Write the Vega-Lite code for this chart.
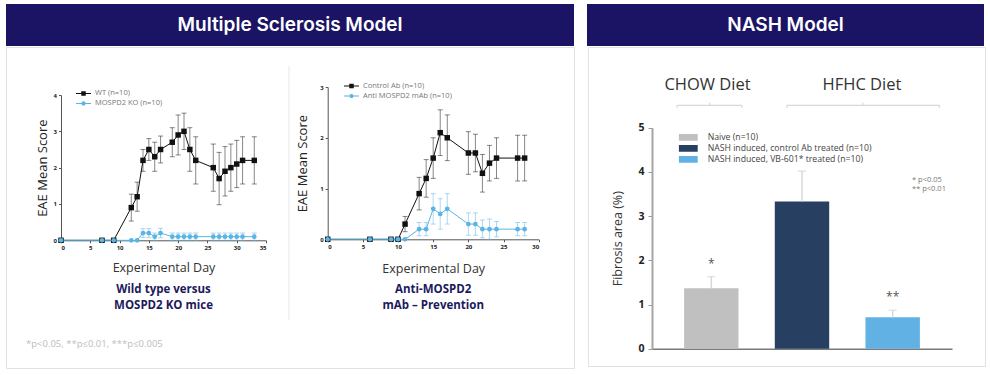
{
"$schema": "https://vega.github.io/schema/vega-lite/v6.json",
"background": "white",
"padding": {"left": 5, "top": 4, "right": 0, "bottom": 0},
"config": {"view": {"stroke": null}, "axis": {"grid": false}, "font": "Open Sans", "legend": {"padding": 0, "offset": 0}},
"datasets": {
"ms_ko": [
{"series": "WT (n=10)", "day": 0, "score": 0},
{"series": "WT (n=10)", "day": 7, "score": 0},
{"series": "WT (n=10)", "day": 9, "score": 0},
{"series": "WT (n=10)", "day": 12, "score": 0.9, "lo": 0.53, "hi": 1.27},
{"series": "WT (n=10)", "day": 13, "score": 1.2, "lo": 0.8, "hi": 1.6},
{"series": "WT (n=10)", "day": 14, "score": 2.2, "lo": 1.9, "hi": 2.5},
{"series": "WT (n=10)", "day": 15, "score": 2.5, "lo": 2.2, "hi": 2.8},
{"series": "WT (n=10)", "day": 16, "score": 2.3, "lo": 1.9, "hi": 2.7},
{"series": "WT (n=10)", "day": 17, "score": 2.5, "lo": 2.13, "hi": 2.87},
{"series": "WT (n=10)", "day": 19, "score": 2.7, "lo": 2.3, "hi": 3.1},
{"series": "WT (n=10)", "day": 20, "score": 2.9, "lo": 2.35, "hi": 3.45},
{"series": "WT (n=10)", "day": 21, "score": 3.0, "lo": 2.5, "hi": 3.5},
{"series": "WT (n=10)", "day": 22, "score": 2.5, "lo": 1.9, "hi": 3.1},
{"series": "WT (n=10)", "day": 23, "score": 2.2, "lo": 1.55, "hi": 2.85},
{"series": "WT (n=10)", "day": 26, "score": 2.0, "lo": 1.35, "hi": 2.65},
{"series": "WT (n=10)", "day": 27, "score": 1.7, "lo": 0.98, "hi": 2.42},
{"series": "WT (n=10)", "day": 28, "score": 1.9, "lo": 1.22, "hi": 2.58},
{"series": "WT (n=10)", "day": 29, "score": 2.0, "lo": 1.35, "hi": 2.65},
{"series": "WT (n=10)", "day": 30, "score": 2.1, "lo": 1.45, "hi": 2.75},
{"series": "WT (n=10)", "day": 31, "score": 2.2, "lo": 1.55, "hi": 2.85},
{"series": "WT (n=10)", "day": 33, "score": 2.2, "lo": 1.55, "hi": 2.85},
{"series": "MOSPD2 KO (n=10)", "day": 0, "score": 0},
{"series": "MOSPD2 KO (n=10)", "day": 7, "score": 0},
{"series": "MOSPD2 KO (n=10)", "day": 9, "score": 0},
{"series": "MOSPD2 KO (n=10)", "day": 12, "score": 0},
{"series": "MOSPD2 KO (n=10)", "day": 13, "score": 0},
{"series": "MOSPD2 KO (n=10)", "day": 14, "score": 0.2, "lo": 0.08, "hi": 0.32},
{"series": "MOSPD2 KO (n=10)", "day": 15, "score": 0.2, "lo": 0.08, "hi": 0.32},
{"series": "MOSPD2 KO (n=10)", "day": 16, "score": 0.1, "lo": 0.0, "hi": 0.2},
{"series": "MOSPD2 KO (n=10)", "day": 17, "score": 0.2, "lo": 0.07, "hi": 0.33},
{"series": "MOSPD2 KO (n=10)", "day": 19, "score": 0.1, "lo": 0.0, "hi": 0.2},
{"series": "MOSPD2 KO (n=10)", "day": 20, "score": 0.1, "lo": 0.0, "hi": 0.2},
{"series": "MOSPD2 KO (n=10)", "day": 21, "score": 0.1, "lo": 0.0, "hi": 0.2},
{"series": "MOSPD2 KO (n=10)", "day": 22, "score": 0.1, "lo": 0.0, "hi": 0.2},
{"series": "MOSPD2 KO (n=10)", "day": 23, "score": 0.1, "lo": 0.0, "hi": 0.2},
{"series": "MOSPD2 KO (n=10)", "day": 26, "score": 0.1, "lo": 0.0, "hi": 0.2},
{"series": "MOSPD2 KO (n=10)", "day": 27, "score": 0.1, "lo": 0.0, "hi": 0.2},
{"series": "MOSPD2 KO (n=10)", "day": 28, "score": 0.1, "lo": 0.0, "hi": 0.2},
{"series": "MOSPD2 KO (n=10)", "day": 29, "score": 0.1, "lo": 0.0, "hi": 0.2},
{"series": "MOSPD2 KO (n=10)", "day": 30, "score": 0.1, "lo": 0.0, "hi": 0.2},
{"series": "MOSPD2 KO (n=10)", "day": 31, "score": 0.1, "lo": 0.0, "hi": 0.2},
{"series": "MOSPD2 KO (n=10)", "day": 33, "score": 0.1, "lo": 0.0, "hi": 0.2}
],
"ms_ab": [
{"series": "Control Ab (n=10)", "day": 0, "score": 0},
{"series": "Control Ab (n=10)", "day": 6, "score": 0},
{"series": "Control Ab (n=10)", "day": 9, "score": 0},
{"series": "Control Ab (n=10)", "day": 10, "score": 0},
{"series": "Control Ab (n=10)", "day": 11, "score": 0.3, "lo": 0.15, "hi": 0.45},
{"series": "Control Ab (n=10)", "day": 13, "score": 0.9, "lo": 0.58, "hi": 1.22},
{"series": "Control Ab (n=10)", "day": 14, "score": 1.2, "lo": 0.83, "hi": 1.57},
{"series": "Control Ab (n=10)", "day": 15, "score": 1.6, "lo": 1.2, "hi": 2.0},
{"series": "Control Ab (n=10)", "day": 16, "score": 2.1, "lo": 1.65, "hi": 2.55},
{"series": "Control Ab (n=10)", "day": 17, "score": 2.0, "lo": 1.55, "hi": 2.45},
{"series": "Control Ab (n=10)", "day": 20, "score": 1.7, "lo": 1.28, "hi": 2.12},
{"series": "Control Ab (n=10)", "day": 21, "score": 1.7, "lo": 1.33, "hi": 2.07},
{"series": "Control Ab (n=10)", "day": 22, "score": 1.3, "lo": 0.93, "hi": 1.67},
{"series": "Control Ab (n=10)", "day": 23, "score": 1.5, "lo": 1.15, "hi": 1.85},
{"series": "Control Ab (n=10)", "day": 24, "score": 1.6, "lo": 1.2, "hi": 2.0},
{"series": "Control Ab (n=10)", "day": 27, "score": 1.6, "lo": 1.15, "hi": 2.05},
{"series": "Control Ab (n=10)", "day": 28, "score": 1.6, "lo": 1.15, "hi": 2.05},
{"series": "Anti MOSPD2 mAb (n=10)", "day": 0, "score": 0},
{"series": "Anti MOSPD2 mAb (n=10)", "day": 6, "score": 0},
{"series": "Anti MOSPD2 mAb (n=10)", "day": 9, "score": 0},
{"series": "Anti MOSPD2 mAb (n=10)", "day": 10, "score": 0},
{"series": "Anti MOSPD2 mAb (n=10)", "day": 11, "score": 0},
{"series": "Anti MOSPD2 mAb (n=10)", "day": 13, "score": 0.2, "lo": 0.07, "hi": 0.33},
{"series": "Anti MOSPD2 mAb (n=10)", "day": 14, "score": 0.2, "lo": 0.07, "hi": 0.33},
{"series": "Anti MOSPD2 mAb (n=10)", "day": 15, "score": 0.6, "lo": 0.3, "hi": 0.9},
{"series": "Anti MOSPD2 mAb (n=10)", "day": 16, "score": 0.5, "lo": 0.2, "hi": 0.8},
{"series": "Anti MOSPD2 mAb (n=10)", "day": 17, "score": 0.6, "lo": 0.3, "hi": 0.9},
{"series": "Anti MOSPD2 mAb (n=10)", "day": 20, "score": 0.3, "lo": 0.08, "hi": 0.52},
{"series": "Anti MOSPD2 mAb (n=10)", "day": 21, "score": 0.3, "lo": 0.08, "hi": 0.52},
{"series": "Anti MOSPD2 mAb (n=10)", "day": 22, "score": 0.2, "lo": 0.03, "hi": 0.38},
{"series": "Anti MOSPD2 mAb (n=10)", "day": 23, "score": 0.2, "lo": 0.0, "hi": 0.4},
{"series": "Anti MOSPD2 mAb (n=10)", "day": 24, "score": 0.2, "lo": 0.05, "hi": 0.35},
{"series": "Anti MOSPD2 mAb (n=10)", "day": 27, "score": 0.2, "lo": 0.07, "hi": 0.33},
{"series": "Anti MOSPD2 mAb (n=10)", "day": 28, "score": 0.2, "lo": 0.07, "hi": 0.33}
],
"nash": [
{"group": "Naive (n=10)", "area": 1.37, "hi": 1.63, "sig": "*"},
{"group": "NASH induced, control Ab treated (n=10)", "area": 3.33, "hi": 4.02, "sig": ""},
{"group": "NASH induced, VB-601* treated (n=10)", "area": 0.71, "hi": 0.87, "sig": "**"}
]
},
"spacing": 0,
"resolve": {"scale": {"color": "independent", "shape": "independent"}, "legend": {"color": "independent", "shape": "independent"}},
"vconcat": [
{"spacing": 13, "hconcat": [
 {"width": 568, "height": 42, "view": {"fill": "#1b1464", "stroke": null},
  "data": {"values": [{"header": "Multiple Sclerosis Model"}]},
  "mark": {"type": "text", "color": "white", "font": "Inter", "fontSize": 19, "fontWeight": 600},
  "encoding": {"text": {"field": "header"}}},
 {"width": 397, "height": 42, "view": {"fill": "#1b1464", "stroke": null},
  "data": {"values": [{"header": "NASH Model"}]},
  "mark": {"type": "text", "color": "white", "font": "Inter", "fontSize": 19, "fontWeight": 600},
  "encoding": {"text": {"field": "header"}}}
]},
{"spacing": 12,
 "resolve": {"scale": {"color": "independent", "shape": "independent"}, "legend": {"color": "independent", "shape": "independent"}},
 "hconcat": [
 {"width": 568, "height": 321,
  "view": {"fill": "white", "stroke": "#e2e2e2"},
  "title": {"text": "*p<0.05, **p≤0.01, ***p≤0.005", "orient": "bottom", "anchor": "start", "frame": "group", "offset": -29, "dx": 20, "fontSize": 9.5, "fontWeight": "normal", "color": "#bdbdbd"},
  "resolve": {"scale": {"x": "independent", "y": "independent", "color": "independent", "shape": "independent"}, "axis": {"x": "independent", "y": "independent"}, "legend": {"color": "independent", "shape": "independent"}},
  "layer": [
   {"data": {"name": "ms_ko"},
    "encoding": {
     "x": {"field": "day", "type": "quantitative", "title": "Experimental Day",
      "scale": {"domain": [0, 35], "range": [55, 260], "nice": false, "zero": false},
      "axis": {"orient": "bottom", "offset": -127.7, "values": [0, 5, 10, 15, 20, 25, 30, 35], "titlePadding": 11, "titleFontSize": 12.5, "titleFontWeight": 500, "titleColor": "#333", "labelFontSize": 6, "labelFontWeight": "bold", "labelColor": "#222", "labelPadding": 2, "tickSize": 2.5, "tickColor": "#555", "domainColor": "#555"}},
     "y": {"field": "score", "type": "quantitative", "title": "EAE Mean Score",
      "scale": {"domain": [0, 4], "range": [193.3, 48], "nice": false},
      "axis": {"orient": "left", "offset": -55, "values": [0, 1, 2, 3, 4], "titlePadding": 4, "titleFontSize": 13, "titleFontWeight": "normal", "titleColor": "#222", "labelFontSize": 6, "labelFontWeight": "bold", "labelColor": "#222", "labelPadding": 2, "tickSize": 2.5, "tickColor": "#555", "domainColor": "#555"}}
    },
    "layer": [
     {"transform": [{"filter": "datum.day < 0"}],
      "mark": {"type": "point", "filled": true, "opacity": 1},
      "encoding": {
       "color": {"field": "series", "type": "nominal", "scale": {"domain": ["WT (n=10)", "MOSPD2 KO (n=10)"], "range": ["#111111", "#5ab4e6"]},
        "legend": {"orient": "none", "legendX": 70, "legendY": 41.7, "title": null, "labelFontSize": 7.5, "labelColor": "#777", "symbolSize": 225, "labelOffset": 4, "rowPadding": 0, "clipHeight": 9.5, "symbolStrokeWidth": 0}},
       "shape": {"field": "series", "type": "nominal", "scale": {"domain": ["WT (n=10)", "MOSPD2 KO (n=10)"], "range": ["M-1,-0.07H1V0.07H-1ZM-0.3,-0.3H0.3V0.3H-0.3Z", "M-1,-0.07H1V0.07H-1ZM0.28,0A0.28,0.28,0,1,1,-0.28,0A0.28,0.28,0,1,1,0.28,0Z"]},
        "legend": {"orient": "none", "legendX": 70, "legendY": 41.7, "title": null, "labelFontSize": 7.5, "labelColor": "#777", "symbolSize": 225, "labelOffset": 4, "rowPadding": 0, "clipHeight": 9.5, "symbolStrokeWidth": 0}}
      }},
     {"mark": {"type": "errorbar", "ticks": true, "size": 5, "thickness": 1, "opacity": 0.5},
      "encoding": {"y": {"field": "lo", "type": "quantitative", "title": "EAE Mean Score"}, "y2": {"field": "hi"},
       "color": {"field": "series", "type": "nominal"}}},
     {"mark": {"type": "line", "strokeWidth": 1},
      "encoding": {"color": {"field": "series", "type": "nominal"}}},
     {"transform": [{"filter": "datum.series === 'WT (n=10)'"}],
      "mark": {"type": "point", "shape": "square", "filled": true, "size": 30, "color": "#111111", "opacity": 1}},
     {"transform": [{"filter": "datum.series === 'MOSPD2 KO (n=10)'"}],
      "mark": {"type": "point", "shape": "circle", "filled": true, "size": 22, "color": "#5ab4e6", "opacity": 1}},
     {"transform": [{"filter": "datum.day === 0 && datum.series === 'WT (n=10)'"}],
      "mark": {"type": "text", "text": ["Wild type versus", "MOSPD2 KO mice"], "fontSize": 11.5, "fontWeight": "bold", "color": "#1c1a5c", "lineHeight": 16, "baseline": "top"},
      "encoding": {"x": {"datum": 17.5, "type": "quantitative", "title": "Experimental Day"}, "y": {"datum": -1.198, "type": "quantitative", "title": "EAE Mean Score"}}}
    ]},
   {"data": {"name": "ms_ab"},
    "encoding": {
     "x": {"field": "day", "type": "quantitative", "title": "Experimental Day",
      "scale": {"domain": [0, 30], "range": [321.7, 532.7], "nice": false, "zero": false},
      "axis": {"orient": "bottom", "offset": -128.7, "values": [0, 5, 10, 15, 20, 25, 30], "titlePadding": 13, "titleFontSize": 12.5, "titleFontWeight": 500, "titleColor": "#333", "labelFontSize": 6, "labelFontWeight": "bold", "labelColor": "#222", "labelPadding": 2, "tickSize": 2.5, "tickColor": "#555", "domainColor": "#555"}},
     "y": {"field": "score", "type": "quantitative", "title": "EAE Mean Score",
      "scale": {"domain": [0, 3], "range": [192.3, 40], "nice": false},
      "axis": {"orient": "left", "offset": -321.7, "values": [0, 1, 2, 3], "titlePadding": 10, "titleFontSize": 13, "titleFontWeight": "normal", "titleColor": "#222", "labelFontSize": 6, "labelFontWeight": "bold", "labelColor": "#222", "labelPadding": 2, "tickSize": 2.5, "tickColor": "#555", "domainColor": "#555"}}
    },
    "layer": [
     {"transform": [{"filter": "datum.day < 0"}],
      "mark": {"type": "point", "filled": true, "opacity": 1},
      "encoding": {
       "color": {"field": "series", "type": "nominal", "scale": {"domain": ["Control Ab (n=10)", "Anti MOSPD2 mAb (n=10)"], "range": ["#111111", "#5ab4e6"]},
        "legend": {"orient": "none", "legendX": 338, "legendY": 34, "title": null, "labelFontSize": 7.5, "labelColor": "#777", "symbolSize": 225, "labelOffset": 4, "rowPadding": 0, "clipHeight": 10, "symbolStrokeWidth": 0}},
       "shape": {"field": "series", "type": "nominal", "scale": {"domain": ["Control Ab (n=10)", "Anti MOSPD2 mAb (n=10)"], "range": ["M-1,-0.07H1V0.07H-1ZM-0.3,-0.3H0.3V0.3H-0.3Z", "M-1,-0.07H1V0.07H-1ZM0.28,0A0.28,0.28,0,1,1,-0.28,0A0.28,0.28,0,1,1,0.28,0Z"]},
        "legend": {"orient": "none", "legendX": 338, "legendY": 34, "title": null, "labelFontSize": 7.5, "labelColor": "#777", "symbolSize": 225, "labelOffset": 4, "rowPadding": 0, "clipHeight": 10, "symbolStrokeWidth": 0}}
      }},
     {"transform": [{"filter": "datum.day === 0 && datum.series === 'Control Ab (n=10)'"}],
      "mark": {"type": "rule", "color": "#e6e6e6", "strokeWidth": 1},
      "encoding": {"x": {"datum": -5.5, "type": "quantitative", "title": "Experimental Day"}, "y": {"datum": 3.413, "type": "quantitative", "title": "EAE Mean Score"}, "y2": {"datum": -1.59}}},
     {"mark": {"type": "errorbar", "ticks": true, "size": 5, "thickness": 1, "opacity": 0.5},
      "encoding": {"y": {"field": "lo", "type": "quantitative", "title": "EAE Mean Score"}, "y2": {"field": "hi"},
       "color": {"field": "series", "type": "nominal"}}},
     {"mark": {"type": "line", "strokeWidth": 1},
      "encoding": {"color": {"field": "series", "type": "nominal"}}},
     {"transform": [{"filter": "datum.series === 'Control Ab (n=10)'"}],
      "mark": {"type": "point", "shape": "square", "filled": true, "size": 30, "color": "#111111", "opacity": 1}},
     {"transform": [{"filter": "datum.series === 'Anti MOSPD2 mAb (n=10)'"}],
      "mark": {"type": "point", "shape": "circle", "filled": true, "size": 22, "color": "#5ab4e6", "opacity": 1}},
     {"transform": [{"filter": "datum.day === 0 && datum.series === 'Control Ab (n=10)'"}],
      "mark": {"type": "text", "text": ["Anti-MOSPD2", "mAb – Prevention"], "fontSize": 11.5, "fontWeight": "bold", "color": "#1c1a5c", "lineHeight": 16, "baseline": "top"},
      "encoding": {"x": {"datum": 15, "type": "quantitative", "title": "Experimental Day"}, "y": {"datum": -0.877, "type": "quantitative", "title": "EAE Mean Score"}}}
    ]}
  ]},
 {"width": 397, "height": 319,
  "view": {"fill": "white", "stroke": "#e2e2e2"},
  "data": {"name": "nash"},
  "encoding": {
   "x": {"field": "group", "type": "nominal", "sort": null, "title": null,
    "scale": {"range": [64, 364], "paddingInner": 0.4, "paddingOuter": 0.354},
    "axis": {"orient": "bottom", "offset": -17.3, "labels": false, "ticks": false, "title": null, "domainColor": "#7a7a7a", "domainWidth": 1.5}}
  },
  "layer": [
   {"mark": {"type": "bar"},
    "encoding": {
     "y": {"field": "area", "type": "quantitative", "title": "Fibrosis area (%)",
      "scale": {"domain": [0, 5], "range": [301.7, 80.7], "nice": false},
      "axis": {"orient": "left", "offset": -64, "values": [0, 1, 2, 3, 4, 5], "format": "d", "titlePadding": 13, "titleFontSize": 12.5, "titleFontWeight": "normal", "titleColor": "#333", "labelFontSize": 10.5, "labelFontWeight": "bold", "labelColor": "#222", "labelPadding": 4, "tickSize": 4, "tickColor": "#9a9a9a", "domainColor": "#a5a5a5", "domainWidth": 2}},
     "color": {"field": "group", "type": "nominal", "sort": null,
      "scale": {"domain": ["Naive (n=10)", "NASH induced, control Ab treated (n=10)", "NASH induced, VB-601* treated (n=10)"], "range": ["#c0c0c0", "#273f61", "#62b1e5"]},
      "legend": {"orient": "none", "legendX": 90.7, "legendY": 85, "title": null, "symbolType": "M-1,-0.35H1V0.35H-1Z", "symbolSize": 361, "labelFontSize": 8.7, "labelColor": "#444", "labelOffset": 10, "labelLimit": 0, "rowPadding": 0, "clipHeight": 10.6, "symbolStrokeWidth": 0}}
    }},
   {"mark": {"type": "rule", "color": "#d9d9d9", "strokeWidth": 1.5},
    "encoding": {"y": {"field": "area", "type": "quantitative", "title": "Fibrosis area (%)"}, "y2": {"field": "hi"}}},
   {"mark": {"type": "tick", "color": "#d9d9d9", "thickness": 1.5, "size": 8},
    "encoding": {"y": {"field": "hi", "type": "quantitative", "title": "Fibrosis area (%)"}}},
   {"mark": {"type": "text", "dy": -9, "baseline": "alphabetic", "fontSize": 12, "color": "#555"},
    "encoding": {"y": {"field": "hi", "type": "quantitative", "title": "Fibrosis area (%)"}, "text": {"field": "sig"}}},
   {"data": {"values": [{}]},
    "mark": {"type": "text", "text": ["* p<0.05", "** p<0.01"], "fontSize": 7.5, "color": "#777", "align": "left", "baseline": "top", "lineHeight": 9},
    "encoding": {"x": {"datum": "NASH induced, VB-601* treated (n=10)", "bandPosition": 0.855}, "y": {"datum": 3.907, "type": "quantitative", "title": "Fibrosis area (%)"}}},
   {"data": {"values": [{}]},
    "mark": {"type": "text", "text": "CHOW Diet", "fontSize": 16.5, "color": "#333"},
    "encoding": {"x": {"datum": "Naive (n=10)", "bandPosition": 0.43}, "y": {"datum": 5.966, "type": "quantitative", "title": "Fibrosis area (%)"}}},
   {"data": {"values": [{}]},
    "mark": {"type": "text", "text": "HFHC Diet", "fontSize": 16.5, "color": "#333"},
    "encoding": {"x": {"datum": "NASH induced, VB-601* treated (n=10)", "bandPosition": -0.064}, "y": {"datum": 5.966, "type": "quantitative", "title": "Fibrosis area (%)"}}},
   {"data": {"values": [{}]},
    "mark": {"type": "rule", "color": "#d0d0d0", "strokeWidth": 1},
    "encoding": {"x": {"datum": "Naive (n=10)", "bandPosition": -0.13}, "x2": {"datum": "Naive (n=10)", "bandPosition": 1.064}, "y": {"datum": 5.507, "type": "quantitative", "title": "Fibrosis area (%)"}}},
   {"data": {"values": [{}]},
    "mark": {"type": "rule", "color": "#d0d0d0", "strokeWidth": 1},
    "encoding": {"x": {"datum": "NASH induced, VB-601* treated (n=10)", "bandPosition": -1.443}, "x2": {"datum": "NASH induced, VB-601* treated (n=10)", "bandPosition": 1.357}, "y": {"datum": 5.507, "type": "quantitative", "title": "Fibrosis area (%)"}}},
   {"data": {"values": [{}]},
    "mark": {"type": "rule", "color": "#d0d0d0", "strokeWidth": 1},
    "encoding": {"x": {"datum": "Naive (n=10)", "bandPosition": 0.47}, "y": {"datum": 5.507, "type": "quantitative", "title": "Fibrosis area (%)"}, "y2": {"datum": 5.567}}},
   {"data": {"values": [{}]},
    "mark": {"type": "rule", "color": "#d0d0d0", "strokeWidth": 1},
    "encoding": {"x": {"datum": "NASH induced, VB-601* treated (n=10)", "bandPosition": -0.046}, "y": {"datum": 5.507, "type": "quantitative", "title": "Fibrosis area (%)"}, "y2": {"datum": 5.567}}},
   {"data": {"values": [{}]},
    "mark": {"type": "rule", "color": "#d0d0d0", "strokeWidth": 1},
    "encoding": {"x": {"datum": "Naive (n=10)", "bandPosition": -0.13}, "y": {"datum": 5.446, "type": "quantitative", "title": "Fibrosis area (%)"}, "y2": {"datum": 5.507}}},
   {"data": {"values": [{}]},
    "mark": {"type": "rule", "color": "#d0d0d0", "strokeWidth": 1},
    "encoding": {"x": {"datum": "Naive (n=10)", "bandPosition": 1.064}, "y": {"datum": 5.446, "type": "quantitative", "title": "Fibrosis area (%)"}, "y2": {"datum": 5.507}}},
   {"data": {"values": [{}]},
    "mark": {"type": "rule", "color": "#d0d0d0", "strokeWidth": 1},
    "encoding": {"x": {"datum": "NASH induced, VB-601* treated (n=10)", "bandPosition": -1.443}, "y": {"datum": 5.446, "type": "quantitative", "title": "Fibrosis area (%)"}, "y2": {"datum": 5.507}}},
   {"data": {"values": [{}]},
    "mark": {"type": "rule", "color": "#d0d0d0", "strokeWidth": 1},
    "encoding": {"x": {"datum": "NASH induced, VB-601* treated (n=10)", "bandPosition": 1.357}, "y": {"datum": 5.446, "type": "quantitative", "title": "Fibrosis area (%)"}, "y2": {"datum": 5.507}}}
  ]}
]}
]
}
